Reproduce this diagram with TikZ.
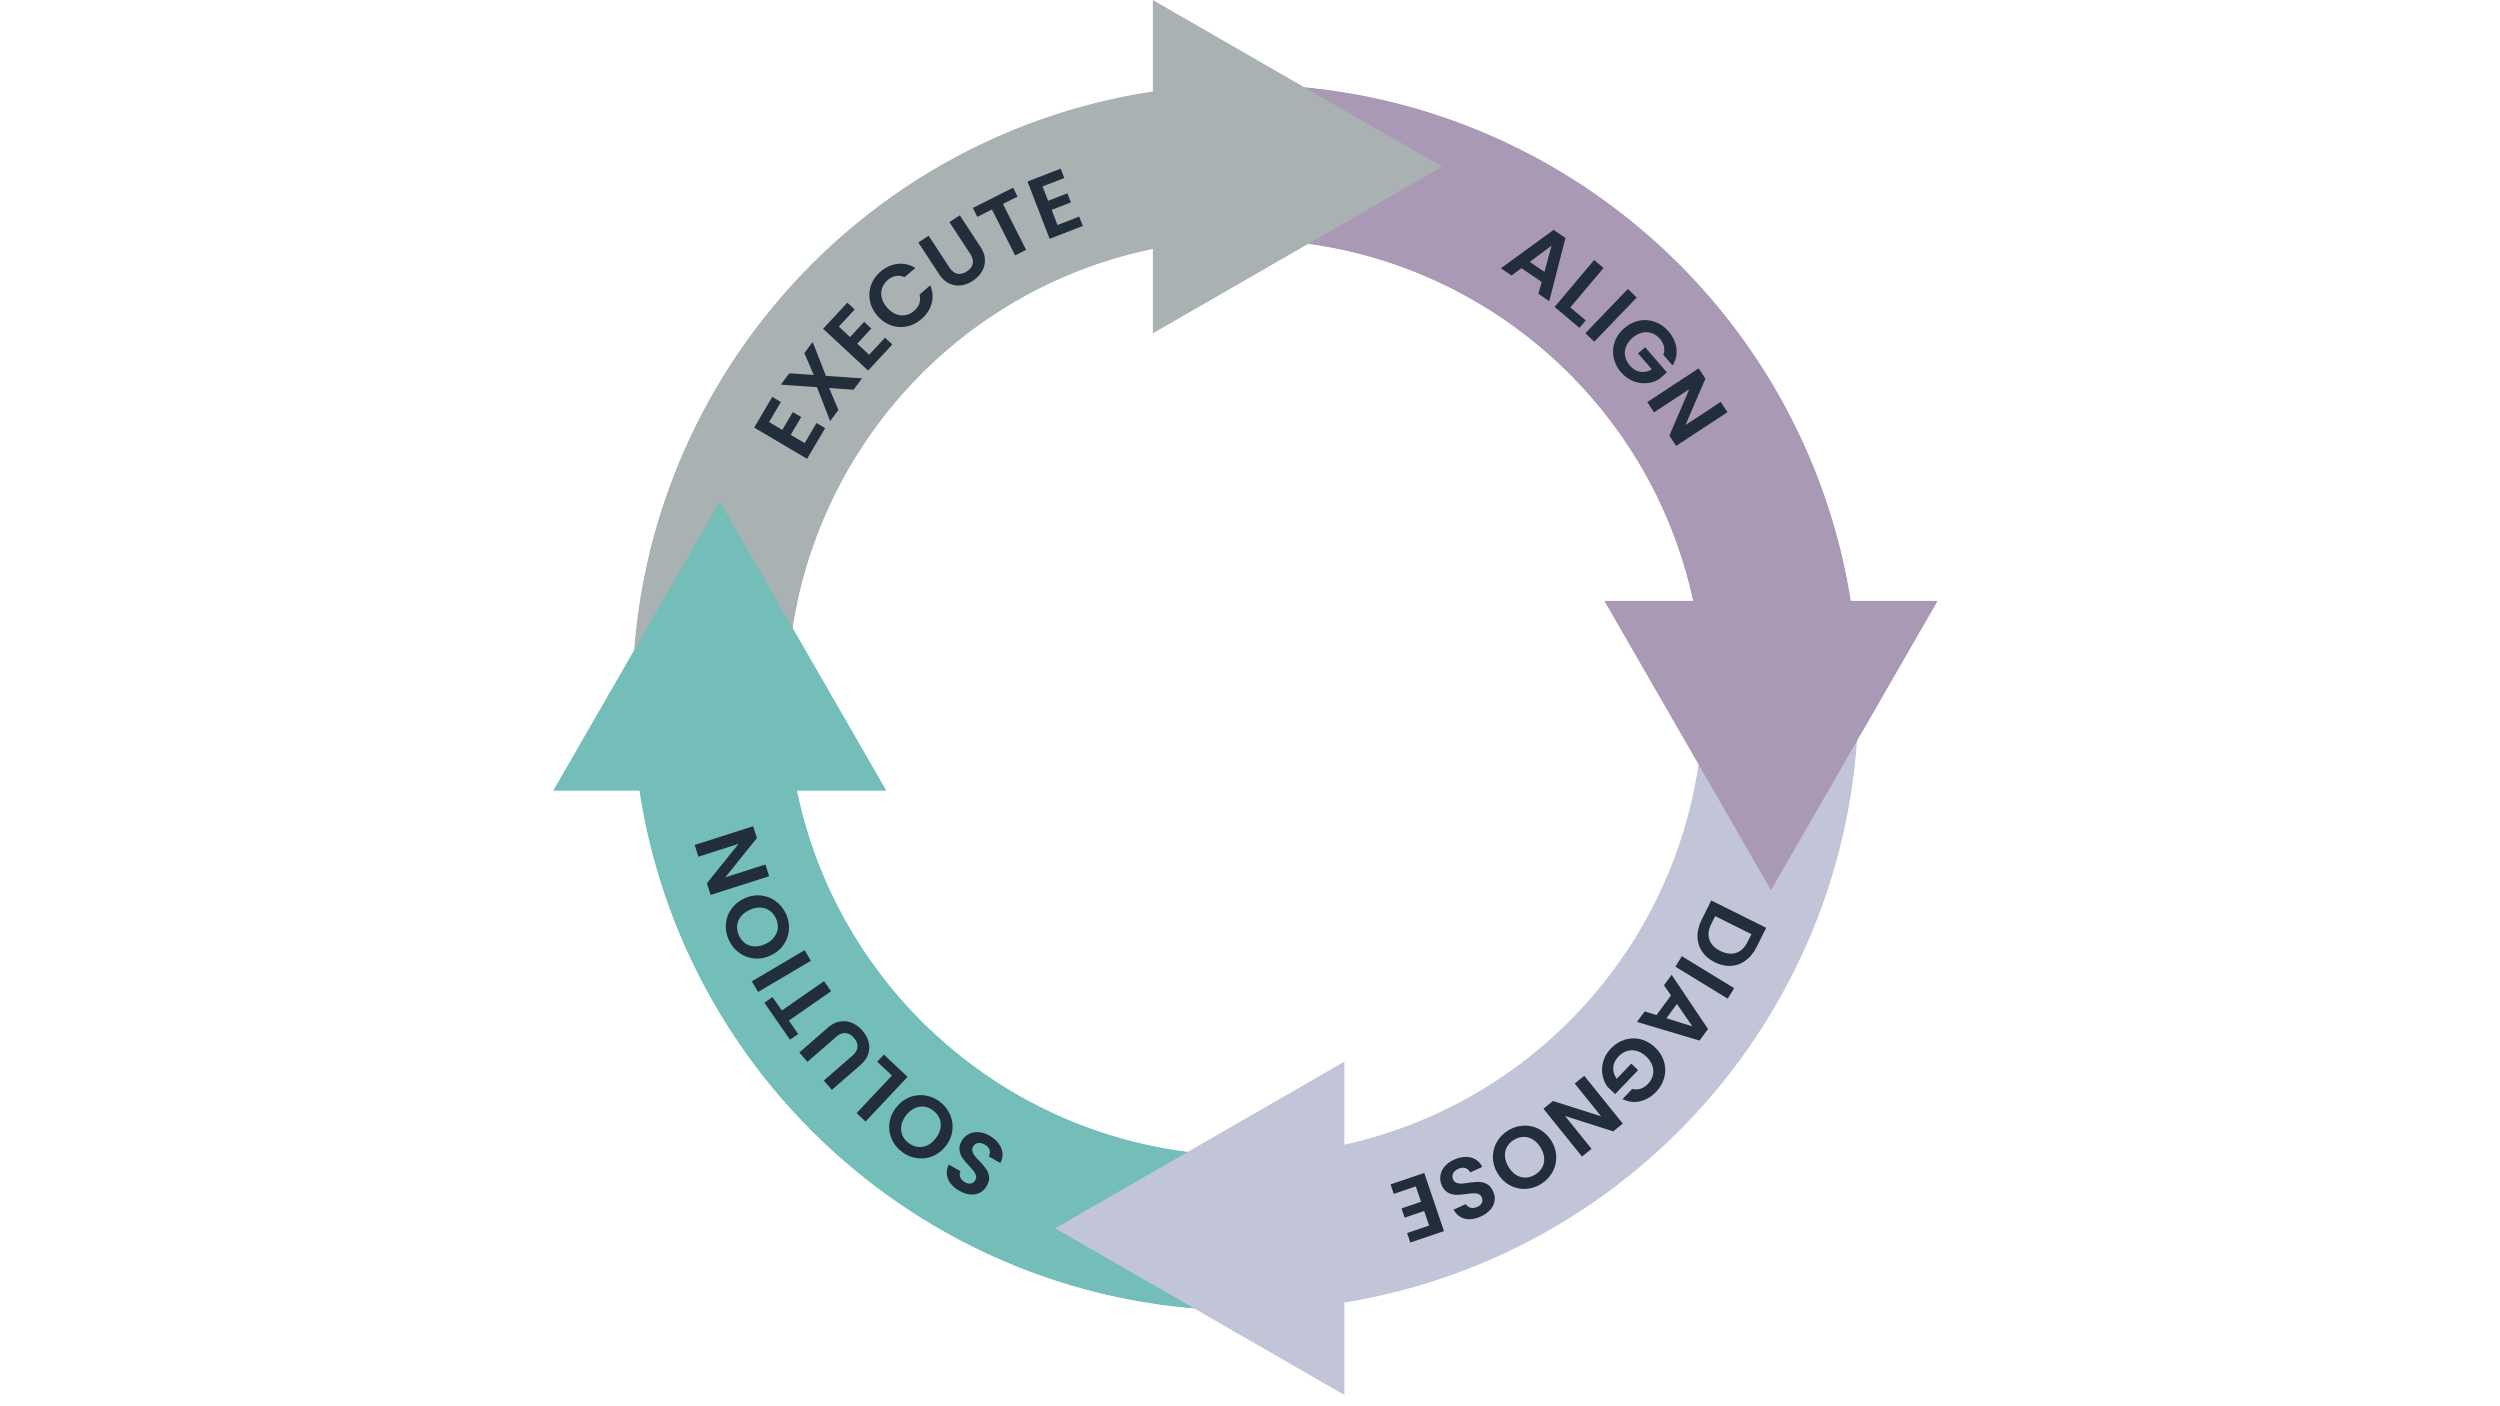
\documentclass[tikz,border=0pt]{standalone}
\usepackage{fontspec}
\newfontfamily\ringfont[LetterSpace=6]{Poppins SemiBold}
\usetikzlibrary{decorations.text}
\definecolor{cyclegray}{HTML}{A9B1B2}
\definecolor{cyclepurple}{HTML}{A999B4}
\definecolor{cyclelav}{HTML}{C2C5D8}
\definecolor{cycleteal}{HTML}{73BEB8}
\definecolor{cycletext}{HTML}{222E3B}
\newcommand\ringstyle{\ringfont\fontsize{25}{30}\selectfont}

\begin{document}
\begin{tikzpicture}[
        ringlabel/.style={decorate, decoration={text along path, text align=center,
          text color=cycletext, text={|\ringstyle|#1}}}]
      \useasboundingbox (-12.454,-7.085) rectangle (12.546,6.975);
      % bands, clockwise, each one starts under the head before it
      \foreach \rot/\col in {0/cyclegray, -90/cyclepurple, -180/cyclelav, -270/cycleteal}
        \fill[rotate=\rot, \col] (180:6.13) arc[start angle=180, end angle=97, radius=6.13]
          -- (97:4.58) arc[start angle=97, end angle=180, radius=4.58] -- cycle;
      % heads
      \foreach \rot/\col/\rad/\off in {0/cyclegray/5.308/0.924, -90/cyclepurple/5.256/0.965,
          -180/cyclelav/5.308/0.989, -270/cycleteal/5.256/0.932}
        \fill[rotate=\rot, \col] (-\off,\rad+1.665) -- (-\off+2.89,\rad) -- (-\off,\rad-1.665) -- cycle;
      % labels
      \path[ringlabel=EXECUTE] (170.3:4.98) arc[start angle=170.3, end angle=90.3, radius=4.98];
      \path[ringlabel=ALIGN] (84.5:4.98) arc[start angle=84.5, end angle=4.5, radius=4.98];
      \path[ringlabel=DIAGNOSE] (-8.4:5.08) arc[start angle=-8.4, end angle=-88.4, radius=5.08];
      \path[ringlabel=SOLUTION] (258.5:5.08) arc[start angle=258.5, end angle=178.5, radius=5.08];
\end{tikzpicture}
\end{document}
